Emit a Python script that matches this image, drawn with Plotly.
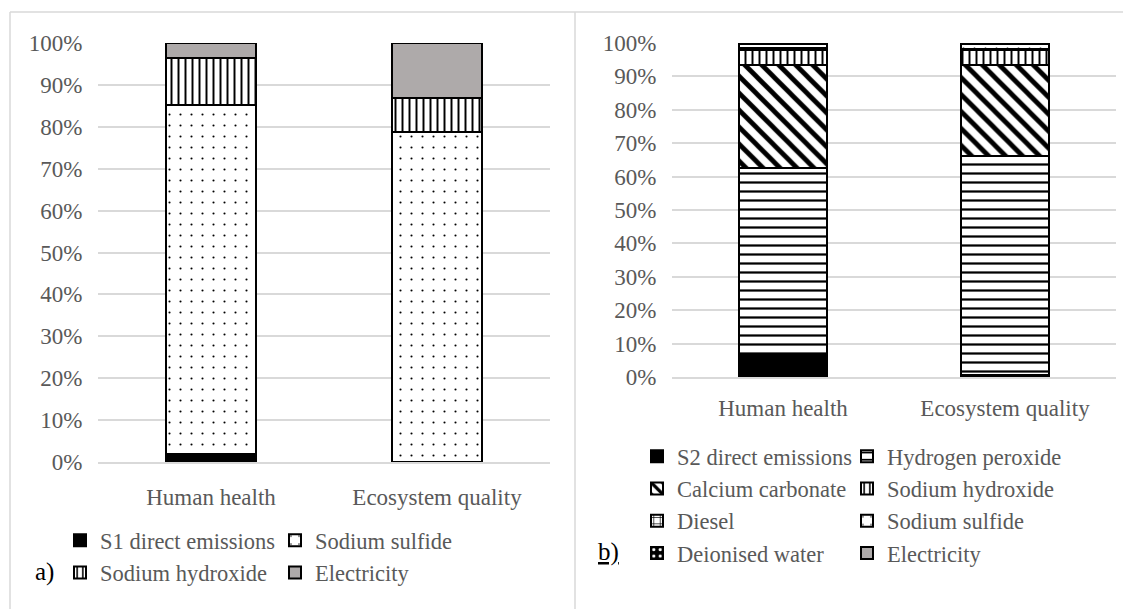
import plotly.graph_objects as go

# categories and shares (%)
categories = ["Human health", "Ecosystem quality"]

a_s1_direct = [1.8, 0.1]
a_sodium_sulfide = [83.3, 78.7]
a_sodium_hydroxide = [11.3, 8.1]
a_electricity = [3.6, 13.1]

b_s2_direct = [6.7, 0.6]
b_hydrogen_peroxide = [55.9, 65.5]
b_calcium_carbonate = [30.7, 27.4]
b_sodium_hydroxide = [4.7, 4.3]
b_diesel = [0.6, 0.5]
b_sodium_sulfide = [1.2, 1.4]
b_deionised_water = [0.1, 0.1]
b_electricity = [0.1, 0.2]

# the page body has an 8px margin, so the figure is shifted by that much
OFF = 8
W, H = 1131 - OFF, 609 - OFF
FONT = "Liberation Serif"
GREY_TXT = "#595959"
GRID = "#d9d9d9"
ELEC = "#aeaaaa"


def px_x(p):
    return (p - OFF) / W


def px_y(p):
    return 1 - (p - OFF) / H


def bar(name, vals, axis, legend, color="white", shape="", fg="black", size=8, solidity=0.25):
    return go.Bar(
        name=name, x=categories, y=vals,
        xaxis="x" if axis == 1 else "x2", yaxis="y" if axis == 1 else "y2",
        legend=legend,
        marker=dict(color=color, line=dict(color="black", width=2),
                    pattern=dict(shape=shape, bgcolor=color, fgcolor=fg, fgopacity=1,
                                 size=size, solidity=solidity)),
        hoverinfo="skip",
    )


fig = go.Figure()

# panel a  (legend = first column, legend2 = second column)
fig.add_trace(bar("S1 direct emissions", a_s1_direct, 1, "legend", color="black"))
fig.add_trace(bar("Sodium sulfide", a_sodium_sulfide, 1, "legend2", shape=".", size=11, solidity=0.03))
fig.add_trace(bar("Sodium hydroxide", a_sodium_hydroxide, 1, "legend", shape="|", size=7, solidity=0.28))
fig.add_trace(bar("Electricity", a_electricity, 1, "legend2", color=ELEC))

# panel b  (legend3 = first column, legend4 = second column)
fig.add_trace(bar("S2 direct emissions", b_s2_direct, 2, "legend3", color="black"))
fig.add_trace(bar("Hydrogen peroxide", b_hydrogen_peroxide, 2, "legend4", shape="-", size=9, solidity=0.25))
fig.add_trace(bar("Calcium carbonate", b_calcium_carbonate, 2, "legend3", shape="\\", size=12, solidity=0.4))
fig.add_trace(bar("Sodium hydroxide", b_sodium_hydroxide, 2, "legend4", shape="|", size=7, solidity=0.28))
fig.add_trace(bar("Diesel", b_diesel, 2, "legend3", shape="+", size=8, solidity=0.2))
fig.add_trace(bar("Sodium sulfide", b_sodium_sulfide, 2, "legend4", shape=".", size=11, solidity=0.03))
fig.add_trace(bar("Deionised water", b_deionised_water, 2, "legend3", color="black", shape=".", fg="white", size=8, solidity=0.2))
fig.add_trace(bar("Electricity", b_electricity, 2, "legend4", color=ELEC))

yax = dict(range=[0, 100], dtick=10, ticksuffix="%", showgrid=True, gridcolor=GRID, gridwidth=1.5,
           zeroline=False, showline=False, ticks="outside", ticklen=10, tickcolor="rgba(0,0,0,0)",
           tickfont=dict(family=FONT, size=23, color=GREY_TXT), fixedrange=True, automargin=False)
xax = dict(showgrid=False, zeroline=False, showline=True, linecolor=GRID, linewidth=1.5,
           ticks="outside", tickcolor="rgba(0,0,0,0)",
           tickfont=dict(family=FONT, size=23, color=GREY_TXT), fixedrange=True, automargin=False)

leg = dict(orientation="v", xanchor="left", yanchor="middle", bgcolor="rgba(0,0,0,0)",
           font=dict(family=FONT, size=22.5, color=GREY_TXT), traceorder="normal",
           itemclick=False, itemdoubleclick=False)

fig.update_layout(
    width=W, height=H,
    margin=dict(l=0, r=0, t=0, b=0),
    font=dict(family=FONT, color=GREY_TXT),
    paper_bgcolor="white", plot_bgcolor="white",
    barmode="stack", bargap=0.6,
    xaxis=dict(xax, domain=[px_x(98), px_x(550)], anchor="y", ticklen=14),
    yaxis=dict(yax, domain=[px_y(462), px_y(43)], anchor="x"),
    xaxis2=dict(xax, domain=[px_x(672), px_x(1116)], anchor="y2", ticklen=10),
    yaxis2=dict(yax, domain=[px_y(377), px_y(43)], anchor="x2"),
    legend=dict(leg, x=px_x(60), y=px_y(556.5)),
    legend2=dict(leg, x=px_x(275), y=px_y(556.5)),
    legend3=dict(leg, x=px_x(637), y=px_y(504.5)),
    legend4=dict(leg, x=px_x(847), y=px_y(504.5)),
    showlegend=True,
)

# panel frames
frame = dict(type="line", xref="paper", yref="paper", line=dict(color=GRID, width=1.5))
fig.add_shape(frame, x0=px_x(10), x1=1, y0=px_y(12), y1=px_y(12))
fig.add_shape(frame, x0=px_x(10), x1=px_x(10), y0=px_y(12), y1=0)
fig.add_shape(frame, x0=px_x(575), x1=px_x(575), y0=px_y(12), y1=0)

fig.add_annotation(text="a)", x=px_x(33), y=px_y(572), xref="paper", yref="paper",
                   xanchor="left", yanchor="middle", showarrow=False,
                   font=dict(family=FONT, size=25, color="black"))
fig.add_annotation(text="<u>b)</u>", x=px_x(596), y=px_y(552), xref="paper", yref="paper",
                   xanchor="left", yanchor="middle", showarrow=False,
                   font=dict(family=FONT, size=25, color="black"))

fig.write_html("out.html")
